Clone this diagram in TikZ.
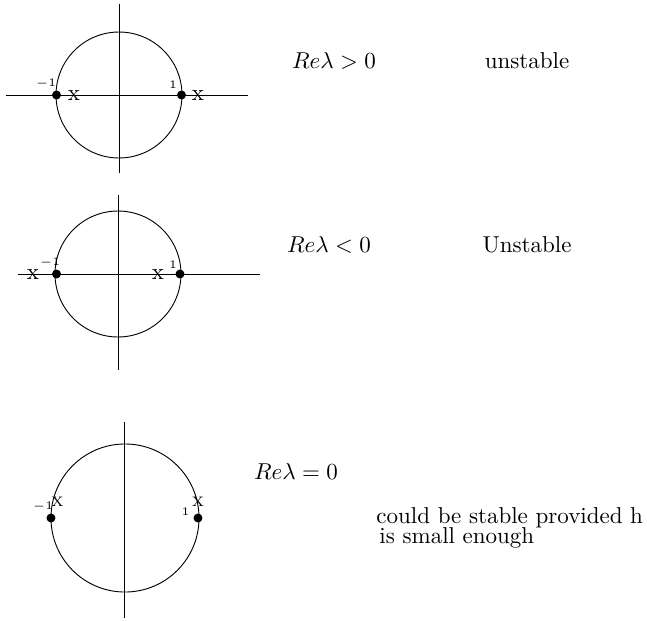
\documentclass[tikz,border=0pt]{standalone}
\usepackage{amsmath,amssymb}

\tikzset{
  dot/.style={circle, fill=black, inner sep=0pt, minimum size=3.9pt},
  tick/.style={font=\fontsize{5.5}{6}\selectfont, inner sep=0pt},
  root/.style={inner sep=0pt},
  bigroot/.style={inner sep=0pt, font=\fontsize{6}{7}\selectfont},
  label text/.style={inner sep=0pt}
}

\begin{document}
\begin{tikzpicture}[x=0.435pt, y=-0.435pt]
    \useasboundingbox (0,0) rectangle (647,620);

    % Top: Re lambda > 0
    \coordinate (c1) at (119,95);
    \draw (c1) circle (27.4pt);
    \draw (119,4) -- (119,173);
    \draw (6,95) -- (248,95);
    \node (m1) [dot] at (56.5,95) {};
    \node (p1) [dot] at (181.5,95) {};
    \node (xm1) [root] at (74,96) {x};
    \node (xp1) [root] at (198,96) {x};
    \node (lm1) [tick] at (46,84) {$-1$};
    \node (lp1) [tick] at (173,85) {$1$};
    \node (re1) [label text] at (334,61) {$Re\lambda > 0$};
    \node (st1) [label text] at (527,61) {unstable};

    % Middle: Re lambda < 0
    \coordinate (c2) at (118,274);
    \draw (c2) circle (27.4pt);
    \draw (118,195) -- (118,370);
    \draw (18,274) -- (260,274);
    \node (m2) [dot] at (56.5,274) {};
    \node (p2) [dot] at (180,274) {};
    \node (xm2) [root] at (33,275) {x};
    \node (xp2) [root] at (158,275) {x};
    \node (lm2) [tick] at (50,263) {$-1$};
    \node (lp2) [tick] at (173,265) {$1$};
    \node (re2) [label text] at (329,245) {$Re\lambda < 0$};
    \node (st2) [label text] at (527,245) {Unstable};

    % Bottom: Re lambda = 0
    \coordinate (c3) at (125,518);
    \draw (c3) circle (32.2pt);
    \draw (124.5,422) -- (124.5,618);
    \node (m3) [dot] at (51,518) {};
    \node (p3) [dot] at (198,518) {};
    \node (xm3) [bigroot] at (57.5,502) {X};
    \node (xp3) [bigroot] at (198,502) {X};
    \node (lm3) [tick] at (43,507) {$-1$};
    \node (lp3) [tick] at (185.5,512) {$1$};
    \node (re3) [label text] at (296,472) {$Re\lambda = 0$};
    \node (st3) [label text, anchor=base west] at (376,523) {could be stable provided h};
    \node (st3b) [label text, anchor=base west] at (379,543) {is small enough};
\end{tikzpicture}
\end{document}
